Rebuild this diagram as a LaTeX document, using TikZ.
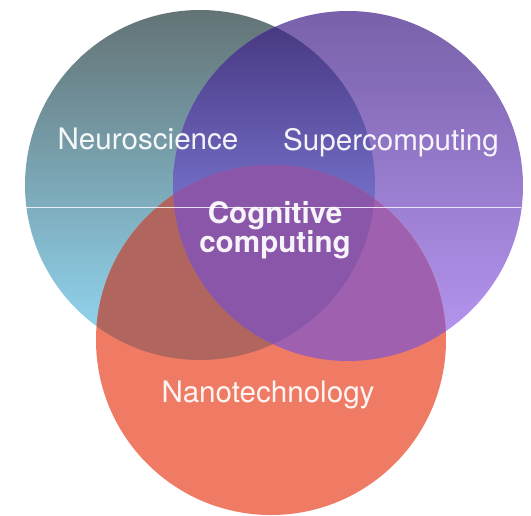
\documentclass[tikz,border=0pt]{standalone}
\usepackage{fontspec}
\setmainfont{TeX Gyre Heros}
\usepackage{xcolor}
\usepackage{tikz}

\definecolor{neuroTop}{HTML}{637375}
\definecolor{neuroMid}{HTML}{8ACCE8}
\definecolor{neuroBot}{HTML}{94DCF8}
\definecolor{superTop}{HTML}{7861AA}
\definecolor{superBot}{HTML}{B998F3}
\definecolor{nanoFill}{HTML}{EF7B65}
\definecolor{nsTop}{HTML}{44347C}
\definecolor{nsBot}{HTML}{7672CC}
\definecolor{nnFill}{HTML}{B0665E}
\definecolor{snFill}{HTML}{A060B0}
\definecolor{allFill}{HTML}{8A56AA}

\begin{document}
\begin{tikzpicture}[x=1pt, y=-1pt,
  lbl/.style={text=white, text opacity=0.93, anchor=base,
              font=\fontsize{29.6}{29}\selectfont},
  core/.style={lbl, anchor=center, align=center,
               font=\fontsize{29.6}{29}\selectfont\bfseries}
]
\useasboundingbox (0,0) rectangle (531,515);

% Circle centres
\coordinate (neuro) at (200,185);
\coordinate (super) at (348,186);
\coordinate (nano)  at (271,340);
\def\rad{175}

% Single circles
\shade[top color=neuroTop, middle color=neuroMid, bottom color=neuroBot]
  (neuro) circle[radius=\rad];
\shade[top color=superTop, bottom color=superBot] (super) circle[radius=\rad];
\fill[nanoFill] (nano) circle[radius=\rad];

% Overlaps
\begin{scope}
  \clip (neuro) circle[radius=\rad];
  \clip (super) circle[radius=\rad];
  \shade[top color=nsTop, bottom color=nsBot] (150,10) rectangle (380,215);
\end{scope}
\begin{scope}
  \clip (neuro) circle[radius=\rad];
  \fill[nnFill] (nano) circle[radius=\rad];
\end{scope}
\begin{scope}
  \clip (super) circle[radius=\rad];
  \fill[snFill] (nano) circle[radius=\rad];
\end{scope}
\begin{scope}
  \clip (neuro) circle[radius=\rad];
  \clip (super) circle[radius=\rad];
  \fill[allFill] (nano) circle[radius=\rad];
\end{scope}

% Thin seam
\draw[white, line width=0.8pt, opacity=0.8] (26,207) -- (521,207);

% Labels
\node[lbl] (neuroLbl) at (148,149) {Neuroscience};
\node[lbl] (superLbl) at (391,150) {Supercomputing};
\node[lbl] (nanoLbl)  at (268,402) {Nanotechnology};
\node[core] (cogLbl)  at (275,230) {Cognitive\\computing};

\end{tikzpicture}
\end{document}
